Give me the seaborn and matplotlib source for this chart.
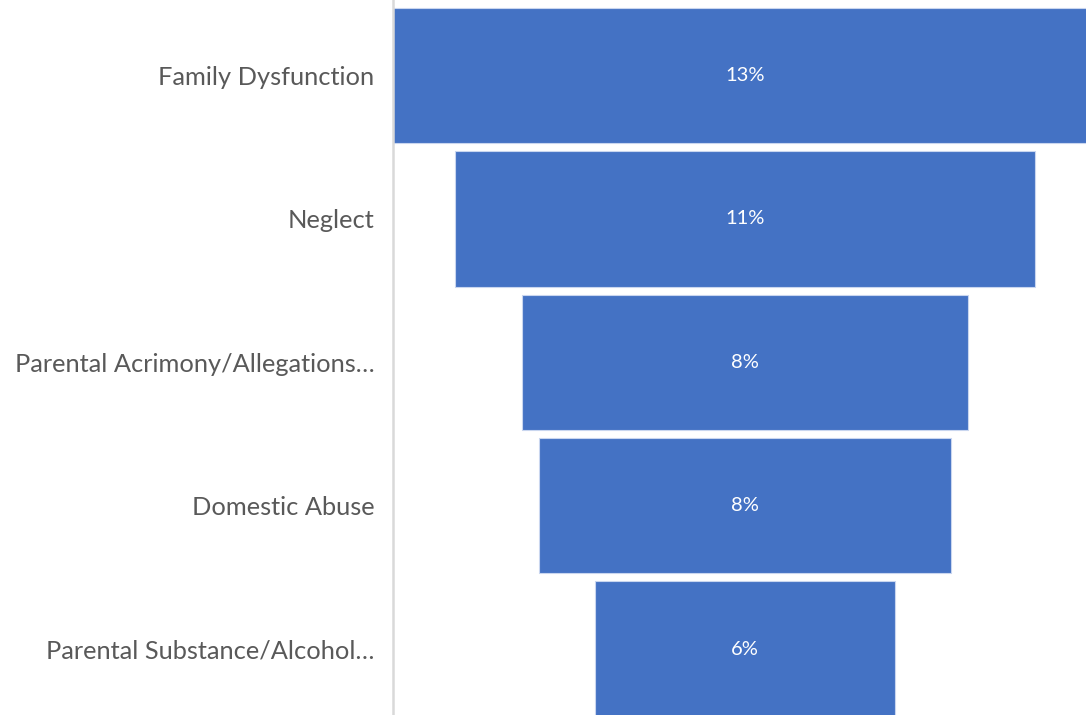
import matplotlib
matplotlib.use("Agg")
import matplotlib.pyplot as plt
import seaborn as sns
import pandas as pd

# Share of referrals by primary reason (percent)
categories = [
    "Family Dysfunction",
    "Neglect",
    "Parental Acrimony/Allegations\u2026",
    "Domestic Abuse",
    "Parental Substance/Alcohol\u2026",
]
values = [13.0, 10.7, 8.25, 7.6, 5.54]

df = pd.DataFrame({"reason": categories, "share": values})

sns.set_theme(style="white")
plt.rcParams["font.family"] = ["Lato", "DejaVu Sans"]

fig = plt.figure(figsize=(10.86, 7.15), dpi=100)
# plot area starts at the category axis and runs a little past the right edge
ax = fig.add_axes([393 / 1086, 0.0, 704 / 1086, 1.0])

sns.barplot(
    data=df, x="share", y="reason", orient="h", ax=ax,
    color="#4472C4", saturation=1, width=0.945,
    edgecolor="#c9d6ef", linewidth=0.8,
)

# center every bar on zero to form the funnel
for p in ax.patches:
    p.set_x(-p.get_width() / 2)

for i, v in enumerate(values):
    ax.text(0, i, f"{v:.0f}%", ha="center", va="center",
            color="white", fontsize=14.5)

half = max(values) / 2
ax.set_xlim(-half, half)
ax.set_ylim(4.46, -0.527)

ax.set_xlabel("")
ax.set_ylabel("")
ax.set_xticks([])
ax.tick_params(axis="y", length=0, pad=13.5, labelsize=18.3, labelcolor="#595959")
for side in ("top", "right", "bottom"):
    ax.spines[side].set_visible(False)
ax.spines["left"].set_color("#d9d9d9")
ax.spines["left"].set_linewidth(1.8)

fig.savefig("out.png", dpi=100)
